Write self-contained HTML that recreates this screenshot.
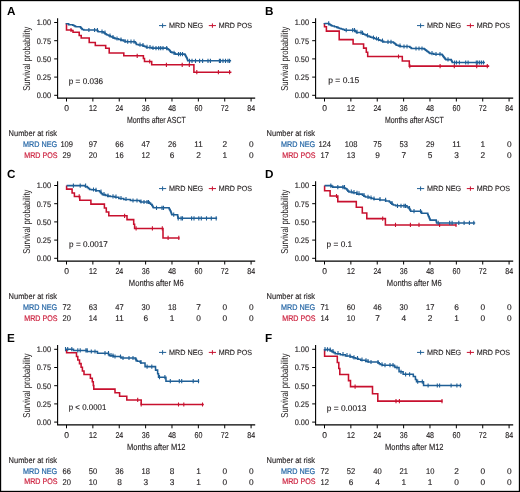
<!DOCTYPE html>
<html><head><meta charset="utf-8"><style>
html,body{margin:0;padding:0;background:#fff;}
svg{display:block;font-family:"Liberation Sans", sans-serif;text-rendering:geometricPrecision;will-change:transform;}
</style></head><body>
<svg width="520" height="492" viewBox="0 0 520 492">
<rect x="0" y="0" width="520" height="492" fill="#fff"/>
<text x="7" y="15.2" font-size="11.7" fill="#000" font-weight="bold">A</text>
<path d="M57.6 18.3V98.1H255.2" fill="none" stroke="#000" stroke-width="1.1"/>
<path d="M54.2 22.5H57.6M54.2 40.7H57.6M54.2 58.9H57.6M54.2 77.1H57.6M54.2 95.3H57.6M66.5 98.1V101.5M92.87 98.1V101.5M119.24 98.1V101.5M145.61 98.1V101.5M171.98 98.1V101.5M198.35 98.1V101.5M224.72 98.1V101.5M251.09 98.1V101.5" stroke="#000" stroke-width="1"/>
<text x="51.1" y="25.4" font-size="8.0" fill="#231f20" stroke="#231f20" stroke-width="0.14" text-anchor="end" textLength="14.4" lengthAdjust="spacingAndGlyphs">1.00</text>
<text x="51.1" y="43.6" font-size="8.0" fill="#231f20" stroke="#231f20" stroke-width="0.14" text-anchor="end" textLength="14.4" lengthAdjust="spacingAndGlyphs">0.75</text>
<text x="51.1" y="61.8" font-size="8.0" fill="#231f20" stroke="#231f20" stroke-width="0.14" text-anchor="end" textLength="14.4" lengthAdjust="spacingAndGlyphs">0.50</text>
<text x="51.1" y="80" font-size="8.0" fill="#231f20" stroke="#231f20" stroke-width="0.14" text-anchor="end" textLength="14.4" lengthAdjust="spacingAndGlyphs">0.25</text>
<text x="51.1" y="98.2" font-size="8.0" fill="#231f20" stroke="#231f20" stroke-width="0.14" text-anchor="end" textLength="14.4" lengthAdjust="spacingAndGlyphs">0.00</text>
<text x="66.6" y="110.7" font-size="8.5" fill="#231f20" stroke="#231f20" stroke-width="0.14" text-anchor="middle">0</text>
<text x="92.97" y="110.7" font-size="8.5" fill="#231f20" stroke="#231f20" stroke-width="0.14" text-anchor="middle" textLength="7.9" lengthAdjust="spacingAndGlyphs">12</text>
<text x="119.34" y="110.7" font-size="8.5" fill="#231f20" stroke="#231f20" stroke-width="0.14" text-anchor="middle" textLength="7.9" lengthAdjust="spacingAndGlyphs">24</text>
<text x="145.71" y="110.7" font-size="8.5" fill="#231f20" stroke="#231f20" stroke-width="0.14" text-anchor="middle" textLength="7.9" lengthAdjust="spacingAndGlyphs">36</text>
<text x="172.08" y="110.7" font-size="8.5" fill="#231f20" stroke="#231f20" stroke-width="0.14" text-anchor="middle" textLength="7.9" lengthAdjust="spacingAndGlyphs">48</text>
<text x="198.45" y="110.7" font-size="8.5" fill="#231f20" stroke="#231f20" stroke-width="0.14" text-anchor="middle" textLength="7.9" lengthAdjust="spacingAndGlyphs">60</text>
<text x="224.82" y="110.7" font-size="8.5" fill="#231f20" stroke="#231f20" stroke-width="0.14" text-anchor="middle" textLength="7.9" lengthAdjust="spacingAndGlyphs">72</text>
<text x="251.19" y="110.7" font-size="8.5" fill="#231f20" stroke="#231f20" stroke-width="0.14" text-anchor="middle" textLength="7.9" lengthAdjust="spacingAndGlyphs">84</text>
<text transform="translate(29.8,58.75) rotate(-90)" font-size="10" fill="#231f20" text-anchor="middle" textLength="64.2" lengthAdjust="spacingAndGlyphs">Survival probability</text>
<text x="156.3" y="123.4" font-size="8.9" fill="#231f20" stroke="#231f20" stroke-width="0.14" text-anchor="middle" textLength="58.8" lengthAdjust="spacingAndGlyphs">Months after ASCT</text>
<path d="M159 25.6h7.2M162.6 23.4v4.4" stroke="#1f5f96" stroke-width="1"/>
<text x="169.1" y="28.1" font-size="7.5" fill="#231f20" stroke="#231f20" stroke-width="0.14" textLength="34.1" lengthAdjust="spacingAndGlyphs">MRD NEG</text>
<path d="M208.8 25.6h7.2M212.4 23.4v4.4" stroke="#c8102e" stroke-width="1"/>
<text x="218.8" y="28.1" font-size="7.5" fill="#231f20" stroke="#231f20" stroke-width="0.14" textLength="33.2" lengthAdjust="spacingAndGlyphs">MRD POS</text>
<text x="68.8" y="83.5" font-size="8.3" fill="#231f20" stroke="#231f20" stroke-width="0.14" textLength="34.3" lengthAdjust="spacingAndGlyphs">p = 0.036</text>
<text x="8.6" y="135.7" font-size="8.2" fill="#231f20" stroke="#231f20" stroke-width="0.14" textLength="48.5" lengthAdjust="spacingAndGlyphs">Number at risk</text>
<text x="57.2" y="146.7" font-size="8.1" fill="#2365a5" stroke="#2365a5" stroke-width="0.2" text-anchor="end" textLength="34.1" lengthAdjust="spacingAndGlyphs">MRD NEG</text>
<text x="57.5" y="157.5" font-size="8.1" fill="#cc1f3d" stroke="#cc1f3d" stroke-width="0.2" text-anchor="end" textLength="33.2" lengthAdjust="spacingAndGlyphs">MRD POS</text>
<text x="66.7" y="147.2" font-size="8.3" fill="#231f20" stroke="#231f20" stroke-width="0.14" text-anchor="middle" textLength="12.6" lengthAdjust="spacingAndGlyphs">109</text>
<text x="93.07" y="147.2" font-size="8.3" fill="#231f20" stroke="#231f20" stroke-width="0.14" text-anchor="middle" textLength="8.4" lengthAdjust="spacingAndGlyphs">97</text>
<text x="119.44" y="147.2" font-size="8.3" fill="#231f20" stroke="#231f20" stroke-width="0.14" text-anchor="middle" textLength="8.4" lengthAdjust="spacingAndGlyphs">66</text>
<text x="145.81" y="147.2" font-size="8.3" fill="#231f20" stroke="#231f20" stroke-width="0.14" text-anchor="middle" textLength="8.4" lengthAdjust="spacingAndGlyphs">47</text>
<text x="172.18" y="147.2" font-size="8.3" fill="#231f20" stroke="#231f20" stroke-width="0.14" text-anchor="middle" textLength="8.4" lengthAdjust="spacingAndGlyphs">26</text>
<text x="198.55" y="147.2" font-size="8.3" fill="#231f20" stroke="#231f20" stroke-width="0.14" text-anchor="middle" textLength="8.4" lengthAdjust="spacingAndGlyphs">11</text>
<text x="224.92" y="147.2" font-size="8.3" fill="#231f20" stroke="#231f20" stroke-width="0.14" text-anchor="middle">2</text>
<text x="251.29" y="147.2" font-size="8.3" fill="#231f20" stroke="#231f20" stroke-width="0.14" text-anchor="middle">0</text>
<text x="66.7" y="157.8" font-size="8.3" fill="#231f20" stroke="#231f20" stroke-width="0.14" text-anchor="middle" textLength="8.4" lengthAdjust="spacingAndGlyphs">29</text>
<text x="93.07" y="157.8" font-size="8.3" fill="#231f20" stroke="#231f20" stroke-width="0.14" text-anchor="middle" textLength="8.4" lengthAdjust="spacingAndGlyphs">20</text>
<text x="119.44" y="157.8" font-size="8.3" fill="#231f20" stroke="#231f20" stroke-width="0.14" text-anchor="middle" textLength="8.4" lengthAdjust="spacingAndGlyphs">16</text>
<text x="145.81" y="157.8" font-size="8.3" fill="#231f20" stroke="#231f20" stroke-width="0.14" text-anchor="middle" textLength="8.4" lengthAdjust="spacingAndGlyphs">12</text>
<text x="172.18" y="157.8" font-size="8.3" fill="#231f20" stroke="#231f20" stroke-width="0.14" text-anchor="middle">6</text>
<text x="198.55" y="157.8" font-size="8.3" fill="#231f20" stroke="#231f20" stroke-width="0.14" text-anchor="middle">2</text>
<text x="224.92" y="157.8" font-size="8.3" fill="#231f20" stroke="#231f20" stroke-width="0.14" text-anchor="middle">1</text>
<text x="251.29" y="157.8" font-size="8.3" fill="#231f20" stroke="#231f20" stroke-width="0.14" text-anchor="middle">0</text>
<path d="M66.5 23V30H71.5V30.5H73V32.3H79.2V35.4H81.2V37.9H89.2V42.5H95.3V45.4H105.7V48.3H109.2V53H123.8V55.8H143.4V58.5H144.5V61.5H151.7V64.8H193.9V72.2H231.4" fill="none" stroke="#c8102e" stroke-width="1.55" stroke-linejoin="miter"/>
<path d="M71 27.9v4.2M137.2 53.7v4.2M149.7 59.4v4.2M166.4 62.7v4.2M182.2 62.7v4.2M189.3 62.7v4.2M196.8 70.1v4.2M218.4 70.1v4.2M229.6 70.1v4.2" stroke="#c8102e" stroke-width="1.1"/>
<path d="M66.50 23.00V23.70H68.70V24.70H72.80V25.27H73.90V25.83H75.00V26.40H76.10V26.70H80.50V27.40H81.07V28.10H81.63V28.80H82.20V29.40H83.70V30.00H85.20H97.40V30.70H97.90V31.40H98.40V31.70H103.10V32.38H104.10V33.05H105.10V33.73H106.10V34.40H107.10V35.07H108.67V35.73H110.23V36.40H111.80V36.97H112.93V37.53H114.07V38.10H115.20V38.80H118.60V39.45H120.95V40.10H123.30V40.90H125.50V41.70H127.70H135.10V42.27H135.53V42.83H135.97V43.40H136.40V44.40H138.50V45.00H142.50V45.60H143.83V46.20H145.17V46.80H146.50V47.40H151.90V48.10H154.60H167.10V48.75H168.10V49.40H169.10V50.07H169.67V50.73H170.23V51.40H170.80V52.10H172.10V52.80H174.80V53.45H175.30V54.10H175.80H184.90V54.70H185.25V55.30H185.60V55.90H185.95V56.50H186.30V57.17H186.63V57.83H186.97V58.50H187.30V59.27H187.53V60.03H187.77V60.80H188.00H231.10" fill="none" stroke="#1f5f96" stroke-width="1.55" stroke-linejoin="miter"/>
<path d="M88.9 27.9v4.2M94.6 27.9v4.2M97.4 27.9v4.2M102 29.6v4.2M105 30.4v4.2M110 33.4v4.2M113 34.9v4.2M117 36.4v4.2M121 37.4v4.2M125 38.9v4.2M127.7 39.6v4.2M131 39.6v4.2M134 39.6v4.2M140 42.5v4.2M143 42.9v4.2M147 44.7v4.2M150 45.1v4.2M153 45.7v4.2M156 46v4.2M158.7 46v4.2M160.7 46v4.2M163 46v4.2M166.7 46v4.2M174 50.7v4.2M178.5 52v4.2M180.4 52v4.2M182.5 52v4.2M189.5 58.7v4.2M192 58.7v4.2M195.5 58.7v4.2M199.6 58.7v4.2M202.6 58.7v4.2M208 58.7v4.2M210.4 58.7v4.2M219.4 58.7v4.2M220.4 58.7v4.2M223 58.7v4.2M225.5 58.7v4.2M228 58.7v4.2M229.6 58.7v4.2" stroke="#1f5f96" stroke-width="1.1"/>
<text x="265" y="15.2" font-size="11.7" fill="#000" font-weight="bold">B</text>
<path d="M315.6 18.3V98.1H513.2" fill="none" stroke="#000" stroke-width="1.1"/>
<path d="M312.2 22.5H315.6M312.2 40.7H315.6M312.2 58.9H315.6M312.2 77.1H315.6M312.2 95.3H315.6M324.5 98.1V101.5M350.87 98.1V101.5M377.24 98.1V101.5M403.61 98.1V101.5M429.98 98.1V101.5M456.35 98.1V101.5M482.72 98.1V101.5M509.09 98.1V101.5" stroke="#000" stroke-width="1"/>
<text x="309.1" y="25.4" font-size="8.0" fill="#231f20" stroke="#231f20" stroke-width="0.14" text-anchor="end" textLength="14.4" lengthAdjust="spacingAndGlyphs">1.00</text>
<text x="309.1" y="43.6" font-size="8.0" fill="#231f20" stroke="#231f20" stroke-width="0.14" text-anchor="end" textLength="14.4" lengthAdjust="spacingAndGlyphs">0.75</text>
<text x="309.1" y="61.8" font-size="8.0" fill="#231f20" stroke="#231f20" stroke-width="0.14" text-anchor="end" textLength="14.4" lengthAdjust="spacingAndGlyphs">0.50</text>
<text x="309.1" y="80" font-size="8.0" fill="#231f20" stroke="#231f20" stroke-width="0.14" text-anchor="end" textLength="14.4" lengthAdjust="spacingAndGlyphs">0.25</text>
<text x="309.1" y="98.2" font-size="8.0" fill="#231f20" stroke="#231f20" stroke-width="0.14" text-anchor="end" textLength="14.4" lengthAdjust="spacingAndGlyphs">0.00</text>
<text x="324.6" y="110.7" font-size="8.5" fill="#231f20" stroke="#231f20" stroke-width="0.14" text-anchor="middle">0</text>
<text x="350.97" y="110.7" font-size="8.5" fill="#231f20" stroke="#231f20" stroke-width="0.14" text-anchor="middle" textLength="7.9" lengthAdjust="spacingAndGlyphs">12</text>
<text x="377.34" y="110.7" font-size="8.5" fill="#231f20" stroke="#231f20" stroke-width="0.14" text-anchor="middle" textLength="7.9" lengthAdjust="spacingAndGlyphs">24</text>
<text x="403.71" y="110.7" font-size="8.5" fill="#231f20" stroke="#231f20" stroke-width="0.14" text-anchor="middle" textLength="7.9" lengthAdjust="spacingAndGlyphs">36</text>
<text x="430.08" y="110.7" font-size="8.5" fill="#231f20" stroke="#231f20" stroke-width="0.14" text-anchor="middle" textLength="7.9" lengthAdjust="spacingAndGlyphs">48</text>
<text x="456.45" y="110.7" font-size="8.5" fill="#231f20" stroke="#231f20" stroke-width="0.14" text-anchor="middle" textLength="7.9" lengthAdjust="spacingAndGlyphs">60</text>
<text x="482.82" y="110.7" font-size="8.5" fill="#231f20" stroke="#231f20" stroke-width="0.14" text-anchor="middle" textLength="7.9" lengthAdjust="spacingAndGlyphs">72</text>
<text x="509.19" y="110.7" font-size="8.5" fill="#231f20" stroke="#231f20" stroke-width="0.14" text-anchor="middle" textLength="7.9" lengthAdjust="spacingAndGlyphs">84</text>
<text transform="translate(287.8,58.75) rotate(-90)" font-size="10" fill="#231f20" text-anchor="middle" textLength="64.2" lengthAdjust="spacingAndGlyphs">Survival probability</text>
<text x="414.3" y="123.4" font-size="8.9" fill="#231f20" stroke="#231f20" stroke-width="0.14" text-anchor="middle" textLength="58.8" lengthAdjust="spacingAndGlyphs">Months after ASCT</text>
<path d="M417 25.6h7.2M420.6 23.4v4.4" stroke="#1f5f96" stroke-width="1"/>
<text x="427.1" y="28.1" font-size="7.5" fill="#231f20" stroke="#231f20" stroke-width="0.14" textLength="34.1" lengthAdjust="spacingAndGlyphs">MRD NEG</text>
<path d="M466.8 25.6h7.2M470.4 23.4v4.4" stroke="#c8102e" stroke-width="1"/>
<text x="476.8" y="28.1" font-size="7.5" fill="#231f20" stroke="#231f20" stroke-width="0.14" textLength="33.2" lengthAdjust="spacingAndGlyphs">MRD POS</text>
<text x="328.3" y="83.4" font-size="8.3" fill="#231f20" stroke="#231f20" stroke-width="0.14" textLength="30.9" lengthAdjust="spacingAndGlyphs">p = 0.15</text>
<text x="266.6" y="135.7" font-size="8.2" fill="#231f20" stroke="#231f20" stroke-width="0.14" textLength="48.5" lengthAdjust="spacingAndGlyphs">Number at risk</text>
<text x="315.2" y="146.7" font-size="8.1" fill="#2365a5" stroke="#2365a5" stroke-width="0.2" text-anchor="end" textLength="34.1" lengthAdjust="spacingAndGlyphs">MRD NEG</text>
<text x="315.5" y="157.5" font-size="8.1" fill="#cc1f3d" stroke="#cc1f3d" stroke-width="0.2" text-anchor="end" textLength="33.2" lengthAdjust="spacingAndGlyphs">MRD POS</text>
<text x="324.7" y="147.2" font-size="8.3" fill="#231f20" stroke="#231f20" stroke-width="0.14" text-anchor="middle" textLength="12.6" lengthAdjust="spacingAndGlyphs">124</text>
<text x="351.07" y="147.2" font-size="8.3" fill="#231f20" stroke="#231f20" stroke-width="0.14" text-anchor="middle" textLength="12.6" lengthAdjust="spacingAndGlyphs">108</text>
<text x="377.44" y="147.2" font-size="8.3" fill="#231f20" stroke="#231f20" stroke-width="0.14" text-anchor="middle" textLength="8.4" lengthAdjust="spacingAndGlyphs">75</text>
<text x="403.81" y="147.2" font-size="8.3" fill="#231f20" stroke="#231f20" stroke-width="0.14" text-anchor="middle" textLength="8.4" lengthAdjust="spacingAndGlyphs">53</text>
<text x="430.18" y="147.2" font-size="8.3" fill="#231f20" stroke="#231f20" stroke-width="0.14" text-anchor="middle" textLength="8.4" lengthAdjust="spacingAndGlyphs">29</text>
<text x="456.55" y="147.2" font-size="8.3" fill="#231f20" stroke="#231f20" stroke-width="0.14" text-anchor="middle" textLength="8.4" lengthAdjust="spacingAndGlyphs">11</text>
<text x="482.92" y="147.2" font-size="8.3" fill="#231f20" stroke="#231f20" stroke-width="0.14" text-anchor="middle">1</text>
<text x="509.29" y="147.2" font-size="8.3" fill="#231f20" stroke="#231f20" stroke-width="0.14" text-anchor="middle">0</text>
<text x="324.7" y="157.8" font-size="8.3" fill="#231f20" stroke="#231f20" stroke-width="0.14" text-anchor="middle" textLength="8.4" lengthAdjust="spacingAndGlyphs">17</text>
<text x="351.07" y="157.8" font-size="8.3" fill="#231f20" stroke="#231f20" stroke-width="0.14" text-anchor="middle" textLength="8.4" lengthAdjust="spacingAndGlyphs">13</text>
<text x="377.44" y="157.8" font-size="8.3" fill="#231f20" stroke="#231f20" stroke-width="0.14" text-anchor="middle">9</text>
<text x="403.81" y="157.8" font-size="8.3" fill="#231f20" stroke="#231f20" stroke-width="0.14" text-anchor="middle">7</text>
<text x="430.18" y="157.8" font-size="8.3" fill="#231f20" stroke="#231f20" stroke-width="0.14" text-anchor="middle">5</text>
<text x="456.55" y="157.8" font-size="8.3" fill="#231f20" stroke="#231f20" stroke-width="0.14" text-anchor="middle">3</text>
<text x="482.92" y="157.8" font-size="8.3" fill="#231f20" stroke="#231f20" stroke-width="0.14" text-anchor="middle">2</text>
<text x="509.29" y="157.8" font-size="8.3" fill="#231f20" stroke="#231f20" stroke-width="0.14" text-anchor="middle">0</text>
<path d="M324.5 23V26.8H326.4V31.1H339.2V39.6H353.1V43.9H363.6V48.1H366.3V52.3H367.7V56.5H402.3V61H409.3V66.1H489.2" fill="none" stroke="#c8102e" stroke-width="1.55" stroke-linejoin="miter"/>
<path d="M398.5 54.4v4.2M409.8 64v4.2M440.1 64v4.2M454.3 64v4.2M476.7 64v4.2M487.3 64v4.2" stroke="#c8102e" stroke-width="1.1"/>
<path d="M324.50 23.00V23.40H328.70V24.07H329.83V24.73H330.97V25.40H332.10V26.05H334.45V26.70H336.80V27.35H338.15V28.00H339.50V28.45H341.20V28.90H342.90V29.55H344.55V30.20H346.20H355.00V30.70H355.47V31.20H355.93V31.70H356.40V32.40H362.10V33.05H362.80V33.70H363.50V34.27H364.83V34.83H366.17V35.40H367.50V36.00H369.07V36.60H370.63V37.20H372.20V37.83H374.23V38.47H376.27V39.10H378.30V39.66H379.64V40.22H380.98V40.78H382.32V41.34H383.66V41.90H385.00H393.20V42.44H393.86V42.98H394.52V43.52H395.18V44.06H395.84V44.60H396.50V45.23H398.43V45.87H400.37V46.50H402.30H409.80V47.17H410.60V47.83H411.40V48.50H412.20H424.20V49.10H424.98V49.70H425.76V50.30H426.54V50.90H427.32V51.50H428.10V52.00H428.73V52.50H429.37V53.00H430.00V53.50H433.80V54.20H438.20H442.00V54.73H442.38V55.25H442.75V55.77H443.12V56.30H443.50V56.88H443.98V57.46H444.46V58.04H444.94V58.62H445.42V59.20H445.90V59.60H451.20V60.18H451.50V60.76H451.80V61.34H452.10V61.92H452.40V62.50H452.70H484.90" fill="none" stroke="#1f5f96" stroke-width="1.55" stroke-linejoin="miter"/>
<path d="M328.7 21.3v4.2M346.2 28.1v4.2M352.7 28.1v4.2M354.5 28.1v4.2M357 29.7v4.2M361 30.2v4.2M362.5 30.7v4.2M367.5 33.3v4.2M373.5 35.4v4.2M376.5 36.4v4.2M378.5 37v4.2M382.5 38.6v4.2M388 39.8v4.2M391 39.8v4.2M400 43.4v4.2M404 44.4v4.2M407 44.4v4.2M416 46.4v4.2M419 46.4v4.2M422 46.4v4.2M432 51.1v4.2M436 51.9v4.2M440 52.1v4.2M448 57.3v4.2M454.6 60.4v4.2M456.5 60.4v4.2M459.4 60.4v4.2M465.7 60.4v4.2M468.1 60.4v4.2M476.3 60.4v4.2M477.7 60.4v4.2M479.6 60.4v4.2M481.5 60.4v4.2M483.5 60.4v4.2" stroke="#1f5f96" stroke-width="1.1"/>
<text x="7" y="178.2" font-size="11.7" fill="#000" font-weight="bold">C</text>
<path d="M57.6 181.3V261.1H255.2" fill="none" stroke="#000" stroke-width="1.1"/>
<path d="M54.2 185.5H57.6M54.2 203.7H57.6M54.2 221.9H57.6M54.2 240.1H57.6M54.2 258.3H57.6M66.5 261.1V264.5M92.87 261.1V264.5M119.24 261.1V264.5M145.61 261.1V264.5M171.98 261.1V264.5M198.35 261.1V264.5M224.72 261.1V264.5M251.09 261.1V264.5" stroke="#000" stroke-width="1"/>
<text x="51.1" y="188.4" font-size="8.0" fill="#231f20" stroke="#231f20" stroke-width="0.14" text-anchor="end" textLength="14.4" lengthAdjust="spacingAndGlyphs">1.00</text>
<text x="51.1" y="206.6" font-size="8.0" fill="#231f20" stroke="#231f20" stroke-width="0.14" text-anchor="end" textLength="14.4" lengthAdjust="spacingAndGlyphs">0.75</text>
<text x="51.1" y="224.8" font-size="8.0" fill="#231f20" stroke="#231f20" stroke-width="0.14" text-anchor="end" textLength="14.4" lengthAdjust="spacingAndGlyphs">0.50</text>
<text x="51.1" y="243" font-size="8.0" fill="#231f20" stroke="#231f20" stroke-width="0.14" text-anchor="end" textLength="14.4" lengthAdjust="spacingAndGlyphs">0.25</text>
<text x="51.1" y="261.2" font-size="8.0" fill="#231f20" stroke="#231f20" stroke-width="0.14" text-anchor="end" textLength="14.4" lengthAdjust="spacingAndGlyphs">0.00</text>
<text x="66.6" y="273.7" font-size="8.5" fill="#231f20" stroke="#231f20" stroke-width="0.14" text-anchor="middle">0</text>
<text x="92.97" y="273.7" font-size="8.5" fill="#231f20" stroke="#231f20" stroke-width="0.14" text-anchor="middle" textLength="7.9" lengthAdjust="spacingAndGlyphs">12</text>
<text x="119.34" y="273.7" font-size="8.5" fill="#231f20" stroke="#231f20" stroke-width="0.14" text-anchor="middle" textLength="7.9" lengthAdjust="spacingAndGlyphs">24</text>
<text x="145.71" y="273.7" font-size="8.5" fill="#231f20" stroke="#231f20" stroke-width="0.14" text-anchor="middle" textLength="7.9" lengthAdjust="spacingAndGlyphs">36</text>
<text x="172.08" y="273.7" font-size="8.5" fill="#231f20" stroke="#231f20" stroke-width="0.14" text-anchor="middle" textLength="7.9" lengthAdjust="spacingAndGlyphs">48</text>
<text x="198.45" y="273.7" font-size="8.5" fill="#231f20" stroke="#231f20" stroke-width="0.14" text-anchor="middle" textLength="7.9" lengthAdjust="spacingAndGlyphs">60</text>
<text x="224.82" y="273.7" font-size="8.5" fill="#231f20" stroke="#231f20" stroke-width="0.14" text-anchor="middle" textLength="7.9" lengthAdjust="spacingAndGlyphs">72</text>
<text x="251.19" y="273.7" font-size="8.5" fill="#231f20" stroke="#231f20" stroke-width="0.14" text-anchor="middle" textLength="7.9" lengthAdjust="spacingAndGlyphs">84</text>
<text transform="translate(29.8,221.75) rotate(-90)" font-size="10" fill="#231f20" text-anchor="middle" textLength="64.2" lengthAdjust="spacingAndGlyphs">Survival probability</text>
<text x="156.3" y="286.4" font-size="8.9" fill="#231f20" stroke="#231f20" stroke-width="0.14" text-anchor="middle" textLength="54.9" lengthAdjust="spacingAndGlyphs">Months after M6</text>
<path d="M159 188.6h7.2M162.6 186.4v4.4" stroke="#1f5f96" stroke-width="1"/>
<text x="169.1" y="191.1" font-size="7.5" fill="#231f20" stroke="#231f20" stroke-width="0.14" textLength="34.1" lengthAdjust="spacingAndGlyphs">MRD NEG</text>
<path d="M208.8 188.6h7.2M212.4 186.4v4.4" stroke="#c8102e" stroke-width="1"/>
<text x="218.8" y="191.1" font-size="7.5" fill="#231f20" stroke="#231f20" stroke-width="0.14" textLength="33.2" lengthAdjust="spacingAndGlyphs">MRD POS</text>
<text x="69.1" y="246.8" font-size="8.3" fill="#231f20" stroke="#231f20" stroke-width="0.14" textLength="38.8" lengthAdjust="spacingAndGlyphs">p = 0.0017</text>
<text x="8.6" y="298.7" font-size="8.2" fill="#231f20" stroke="#231f20" stroke-width="0.14" textLength="48.5" lengthAdjust="spacingAndGlyphs">Number at risk</text>
<text x="57.2" y="309.7" font-size="8.1" fill="#2365a5" stroke="#2365a5" stroke-width="0.2" text-anchor="end" textLength="34.1" lengthAdjust="spacingAndGlyphs">MRD NEG</text>
<text x="57.5" y="320.5" font-size="8.1" fill="#cc1f3d" stroke="#cc1f3d" stroke-width="0.2" text-anchor="end" textLength="33.2" lengthAdjust="spacingAndGlyphs">MRD POS</text>
<text x="66.7" y="310.2" font-size="8.3" fill="#231f20" stroke="#231f20" stroke-width="0.14" text-anchor="middle" textLength="8.4" lengthAdjust="spacingAndGlyphs">72</text>
<text x="93.07" y="310.2" font-size="8.3" fill="#231f20" stroke="#231f20" stroke-width="0.14" text-anchor="middle" textLength="8.4" lengthAdjust="spacingAndGlyphs">63</text>
<text x="119.44" y="310.2" font-size="8.3" fill="#231f20" stroke="#231f20" stroke-width="0.14" text-anchor="middle" textLength="8.4" lengthAdjust="spacingAndGlyphs">47</text>
<text x="145.81" y="310.2" font-size="8.3" fill="#231f20" stroke="#231f20" stroke-width="0.14" text-anchor="middle" textLength="8.4" lengthAdjust="spacingAndGlyphs">30</text>
<text x="172.18" y="310.2" font-size="8.3" fill="#231f20" stroke="#231f20" stroke-width="0.14" text-anchor="middle" textLength="8.4" lengthAdjust="spacingAndGlyphs">18</text>
<text x="198.55" y="310.2" font-size="8.3" fill="#231f20" stroke="#231f20" stroke-width="0.14" text-anchor="middle">7</text>
<text x="224.92" y="310.2" font-size="8.3" fill="#231f20" stroke="#231f20" stroke-width="0.14" text-anchor="middle">0</text>
<text x="251.29" y="310.2" font-size="8.3" fill="#231f20" stroke="#231f20" stroke-width="0.14" text-anchor="middle">0</text>
<text x="66.7" y="320.8" font-size="8.3" fill="#231f20" stroke="#231f20" stroke-width="0.14" text-anchor="middle" textLength="8.4" lengthAdjust="spacingAndGlyphs">20</text>
<text x="93.07" y="320.8" font-size="8.3" fill="#231f20" stroke="#231f20" stroke-width="0.14" text-anchor="middle" textLength="8.4" lengthAdjust="spacingAndGlyphs">14</text>
<text x="119.44" y="320.8" font-size="8.3" fill="#231f20" stroke="#231f20" stroke-width="0.14" text-anchor="middle" textLength="8.4" lengthAdjust="spacingAndGlyphs">11</text>
<text x="145.81" y="320.8" font-size="8.3" fill="#231f20" stroke="#231f20" stroke-width="0.14" text-anchor="middle">6</text>
<text x="172.18" y="320.8" font-size="8.3" fill="#231f20" stroke="#231f20" stroke-width="0.14" text-anchor="middle">1</text>
<text x="198.55" y="320.8" font-size="8.3" fill="#231f20" stroke="#231f20" stroke-width="0.14" text-anchor="middle">0</text>
<text x="224.92" y="320.8" font-size="8.3" fill="#231f20" stroke="#231f20" stroke-width="0.14" text-anchor="middle">0</text>
<text x="251.29" y="320.8" font-size="8.3" fill="#231f20" stroke="#231f20" stroke-width="0.14" text-anchor="middle">0</text>
<path d="M66.6 185.5V189.1H72.1V192.9H74.4V196.4H79.8V200.2H90.9V204.1H104.4V208H106.3V211.9H108.8V215.8H127V219.6H133.7V224.3H134.6V228.4H163V237.9H179.6" fill="none" stroke="#c8102e" stroke-width="1.55" stroke-linejoin="miter"/>
<path d="M79.2 194.3v4.2M124.6 213.7v4.2M136.1 226.3v4.2M152.4 226.3v4.2M162.3 226.3v4.2M168.1 235.8v4.2M178.8 235.8v4.2" stroke="#c8102e" stroke-width="1.1"/>
<path d="M66.60 185.60H85.20V186.40H87.20V187.40H88.40V188.40H89.60V189.40H91.60V189.80H95.80V190.80H99.60V191.77H100.57V192.73H101.53V193.70H102.50V194.60H105.40V195.35H107.80V196.10H110.20V196.50H115.00V197.30H118.80V198.50H123.70V199.40H130.40V200.50H133.00H139.70V201.25H140.45V202.00H141.20H149.30V203.10H150.55V204.20H151.80V205.10H152.33V206.00H152.85V206.90H153.38V207.80H153.90H169.10V208.80H169.63V209.80H170.17V210.80H170.70V211.78H171.07V212.75H171.45V213.72H171.82V214.70H172.20H177.60V215.60H177.75V216.50H177.90V217.40H178.05V218.30H178.20H217.10" fill="none" stroke="#1f5f96" stroke-width="1.55" stroke-linejoin="miter"/>
<path d="M73.4 183.5v4.2M80.2 183.5v4.2M85.6 183.5v4.2M93.5 187.4v4.2M96 187.7v4.2M101 189.4v4.2M104 191.9v4.2M108 193.4v4.2M113 194.3v4.2M116 194.5v4.2M121 195.9v4.2M126 196.9v4.2M133 198.4v4.2M137 198.4v4.2M141 199.4v4.2M144 199.9v4.2M147 199.9v4.2M148.5 199.9v4.2M156.5 205.7v4.2M162 205.7v4.2M163.5 205.7v4.2M173.7 212.6v4.2M178.2 216.2v4.2M181.1 216.2v4.2M182.5 216.2v4.2M191.6 216.2v4.2M194 216.2v4.2M198.8 216.2v4.2M201.3 216.2v4.2M206.5 216.2v4.2M211.3 216.2v4.2M216.2 216.2v4.2" stroke="#1f5f96" stroke-width="1.1"/>
<text x="265" y="178.2" font-size="11.7" fill="#000" font-weight="bold">D</text>
<path d="M315.6 181.3V261.1H513.2" fill="none" stroke="#000" stroke-width="1.1"/>
<path d="M312.2 185.5H315.6M312.2 203.7H315.6M312.2 221.9H315.6M312.2 240.1H315.6M312.2 258.3H315.6M324.5 261.1V264.5M350.87 261.1V264.5M377.24 261.1V264.5M403.61 261.1V264.5M429.98 261.1V264.5M456.35 261.1V264.5M482.72 261.1V264.5M509.09 261.1V264.5" stroke="#000" stroke-width="1"/>
<text x="309.1" y="188.4" font-size="8.0" fill="#231f20" stroke="#231f20" stroke-width="0.14" text-anchor="end" textLength="14.4" lengthAdjust="spacingAndGlyphs">1.00</text>
<text x="309.1" y="206.6" font-size="8.0" fill="#231f20" stroke="#231f20" stroke-width="0.14" text-anchor="end" textLength="14.4" lengthAdjust="spacingAndGlyphs">0.75</text>
<text x="309.1" y="224.8" font-size="8.0" fill="#231f20" stroke="#231f20" stroke-width="0.14" text-anchor="end" textLength="14.4" lengthAdjust="spacingAndGlyphs">0.50</text>
<text x="309.1" y="243" font-size="8.0" fill="#231f20" stroke="#231f20" stroke-width="0.14" text-anchor="end" textLength="14.4" lengthAdjust="spacingAndGlyphs">0.25</text>
<text x="309.1" y="261.2" font-size="8.0" fill="#231f20" stroke="#231f20" stroke-width="0.14" text-anchor="end" textLength="14.4" lengthAdjust="spacingAndGlyphs">0.00</text>
<text x="324.6" y="273.7" font-size="8.5" fill="#231f20" stroke="#231f20" stroke-width="0.14" text-anchor="middle">0</text>
<text x="350.97" y="273.7" font-size="8.5" fill="#231f20" stroke="#231f20" stroke-width="0.14" text-anchor="middle" textLength="7.9" lengthAdjust="spacingAndGlyphs">12</text>
<text x="377.34" y="273.7" font-size="8.5" fill="#231f20" stroke="#231f20" stroke-width="0.14" text-anchor="middle" textLength="7.9" lengthAdjust="spacingAndGlyphs">24</text>
<text x="403.71" y="273.7" font-size="8.5" fill="#231f20" stroke="#231f20" stroke-width="0.14" text-anchor="middle" textLength="7.9" lengthAdjust="spacingAndGlyphs">36</text>
<text x="430.08" y="273.7" font-size="8.5" fill="#231f20" stroke="#231f20" stroke-width="0.14" text-anchor="middle" textLength="7.9" lengthAdjust="spacingAndGlyphs">48</text>
<text x="456.45" y="273.7" font-size="8.5" fill="#231f20" stroke="#231f20" stroke-width="0.14" text-anchor="middle" textLength="7.9" lengthAdjust="spacingAndGlyphs">60</text>
<text x="482.82" y="273.7" font-size="8.5" fill="#231f20" stroke="#231f20" stroke-width="0.14" text-anchor="middle" textLength="7.9" lengthAdjust="spacingAndGlyphs">72</text>
<text x="509.19" y="273.7" font-size="8.5" fill="#231f20" stroke="#231f20" stroke-width="0.14" text-anchor="middle" textLength="7.9" lengthAdjust="spacingAndGlyphs">84</text>
<text transform="translate(287.8,221.75) rotate(-90)" font-size="10" fill="#231f20" text-anchor="middle" textLength="64.2" lengthAdjust="spacingAndGlyphs">Survival probability</text>
<text x="414.3" y="286.4" font-size="8.9" fill="#231f20" stroke="#231f20" stroke-width="0.14" text-anchor="middle" textLength="54.9" lengthAdjust="spacingAndGlyphs">Months after M6</text>
<path d="M417 188.6h7.2M420.6 186.4v4.4" stroke="#1f5f96" stroke-width="1"/>
<text x="427.1" y="191.1" font-size="7.5" fill="#231f20" stroke="#231f20" stroke-width="0.14" textLength="34.1" lengthAdjust="spacingAndGlyphs">MRD NEG</text>
<path d="M466.8 188.6h7.2M470.4 186.4v4.4" stroke="#c8102e" stroke-width="1"/>
<text x="476.8" y="191.1" font-size="7.5" fill="#231f20" stroke="#231f20" stroke-width="0.14" textLength="33.2" lengthAdjust="spacingAndGlyphs">MRD POS</text>
<text x="326.6" y="246.8" font-size="8.3" fill="#231f20" stroke="#231f20" stroke-width="0.14" textLength="25.6" lengthAdjust="spacingAndGlyphs">p = 0.1</text>
<text x="266.6" y="298.7" font-size="8.2" fill="#231f20" stroke="#231f20" stroke-width="0.14" textLength="48.5" lengthAdjust="spacingAndGlyphs">Number at risk</text>
<text x="315.2" y="309.7" font-size="8.1" fill="#2365a5" stroke="#2365a5" stroke-width="0.2" text-anchor="end" textLength="34.1" lengthAdjust="spacingAndGlyphs">MRD NEG</text>
<text x="315.5" y="320.5" font-size="8.1" fill="#cc1f3d" stroke="#cc1f3d" stroke-width="0.2" text-anchor="end" textLength="33.2" lengthAdjust="spacingAndGlyphs">MRD POS</text>
<text x="324.7" y="310.2" font-size="8.3" fill="#231f20" stroke="#231f20" stroke-width="0.14" text-anchor="middle" textLength="8.4" lengthAdjust="spacingAndGlyphs">71</text>
<text x="351.07" y="310.2" font-size="8.3" fill="#231f20" stroke="#231f20" stroke-width="0.14" text-anchor="middle" textLength="8.4" lengthAdjust="spacingAndGlyphs">60</text>
<text x="377.44" y="310.2" font-size="8.3" fill="#231f20" stroke="#231f20" stroke-width="0.14" text-anchor="middle" textLength="8.4" lengthAdjust="spacingAndGlyphs">46</text>
<text x="403.81" y="310.2" font-size="8.3" fill="#231f20" stroke="#231f20" stroke-width="0.14" text-anchor="middle" textLength="8.4" lengthAdjust="spacingAndGlyphs">30</text>
<text x="430.18" y="310.2" font-size="8.3" fill="#231f20" stroke="#231f20" stroke-width="0.14" text-anchor="middle" textLength="8.4" lengthAdjust="spacingAndGlyphs">17</text>
<text x="456.55" y="310.2" font-size="8.3" fill="#231f20" stroke="#231f20" stroke-width="0.14" text-anchor="middle">6</text>
<text x="482.92" y="310.2" font-size="8.3" fill="#231f20" stroke="#231f20" stroke-width="0.14" text-anchor="middle">0</text>
<text x="509.29" y="310.2" font-size="8.3" fill="#231f20" stroke="#231f20" stroke-width="0.14" text-anchor="middle">0</text>
<text x="324.7" y="320.8" font-size="8.3" fill="#231f20" stroke="#231f20" stroke-width="0.14" text-anchor="middle" textLength="8.4" lengthAdjust="spacingAndGlyphs">14</text>
<text x="351.07" y="320.8" font-size="8.3" fill="#231f20" stroke="#231f20" stroke-width="0.14" text-anchor="middle" textLength="8.4" lengthAdjust="spacingAndGlyphs">10</text>
<text x="377.44" y="320.8" font-size="8.3" fill="#231f20" stroke="#231f20" stroke-width="0.14" text-anchor="middle">7</text>
<text x="403.81" y="320.8" font-size="8.3" fill="#231f20" stroke="#231f20" stroke-width="0.14" text-anchor="middle">4</text>
<text x="430.18" y="320.8" font-size="8.3" fill="#231f20" stroke="#231f20" stroke-width="0.14" text-anchor="middle">2</text>
<text x="456.55" y="320.8" font-size="8.3" fill="#231f20" stroke="#231f20" stroke-width="0.14" text-anchor="middle">1</text>
<text x="482.92" y="320.8" font-size="8.3" fill="#231f20" stroke="#231f20" stroke-width="0.14" text-anchor="middle">0</text>
<text x="509.29" y="320.8" font-size="8.3" fill="#231f20" stroke="#231f20" stroke-width="0.14" text-anchor="middle">0</text>
<path d="M324.6 185.5V190.8H330.1V196H337.8V201.6H356.3V207.2H362.3V212.9H366.8V218.6H385.4V224.9H456.4" fill="none" stroke="#c8102e" stroke-width="1.55" stroke-linejoin="miter"/>
<path d="M336.5 193.9v4.2M382.7 216.5v4.2M395.5 222.8v4.2M410.4 222.8v4.2M419 222.8v4.2M439.6 222.8v4.2M456 222.8v4.2" stroke="#c8102e" stroke-width="1.1"/>
<path d="M324.60 185.60H331.80V186.35H332.80V187.10H333.80H344.20V187.90H345.55V188.70H346.90V189.90H347.90V191.10H348.90V191.90H352.80V192.70H356.70V194.10H362.50V195.20H363.95V196.30H365.40V197.00H369.20V197.75H371.60V198.50H374.00V199.20H379.80V199.90H385.60V200.90H389.40V202.00H390.70V203.10H392.00V204.20H393.30V205.00H395.60V205.80H397.90H407.00V206.90H408.20V208.00H409.40V209.07H410.03V210.13H410.67V211.20H411.30H421.40V212.25H421.65V213.30H421.90H427.70V214.50H428.20V215.70H428.70V216.80H429.18V217.90H429.65V219.00H430.12V220.10H430.60H436.20V221.03H436.40V221.97H436.60V222.90H436.80H475.20" fill="none" stroke="#1f5f96" stroke-width="1.55" stroke-linejoin="miter"/>
<path d="M330.8 183.5v4.2M337.8 185v4.2M342.9 185v4.2M344.5 185v4.2M351.3 189.4v4.2M354 190.1v4.2M357 190.7v4.2M359 191.2v4.2M364 192.9v4.2M368 194.7v4.2M371 195.4v4.2M374 196.4v4.2M380 197.1v4.2M385.6 197.8v4.2M392 200.9v4.2M397.5 203.7v4.2M401 203.7v4.2M404 203.7v4.2M405.5 203.7v4.2M409.5 205.9v4.2M414 209.1v4.2M420.5 209.1v4.2M438.2 220.8v4.2M449.7 220.8v4.2M452.1 220.8v4.2M458.8 220.8v4.2M464.1 220.8v4.2M469.4 220.8v4.2M473.8 220.8v4.2" stroke="#1f5f96" stroke-width="1.1"/>
<text x="7" y="342" font-size="11.7" fill="#000" font-weight="bold">E</text>
<path d="M57.6 345.1V424.9H255.2" fill="none" stroke="#000" stroke-width="1.1"/>
<path d="M54.2 349.3H57.6M54.2 367.5H57.6M54.2 385.7H57.6M54.2 403.9H57.6M54.2 422.1H57.6M66.5 424.9V428.3M92.87 424.9V428.3M119.24 424.9V428.3M145.61 424.9V428.3M171.98 424.9V428.3M198.35 424.9V428.3M224.72 424.9V428.3M251.09 424.9V428.3" stroke="#000" stroke-width="1"/>
<text x="51.1" y="352.2" font-size="8.0" fill="#231f20" stroke="#231f20" stroke-width="0.14" text-anchor="end" textLength="14.4" lengthAdjust="spacingAndGlyphs">1.00</text>
<text x="51.1" y="370.4" font-size="8.0" fill="#231f20" stroke="#231f20" stroke-width="0.14" text-anchor="end" textLength="14.4" lengthAdjust="spacingAndGlyphs">0.75</text>
<text x="51.1" y="388.6" font-size="8.0" fill="#231f20" stroke="#231f20" stroke-width="0.14" text-anchor="end" textLength="14.4" lengthAdjust="spacingAndGlyphs">0.50</text>
<text x="51.1" y="406.8" font-size="8.0" fill="#231f20" stroke="#231f20" stroke-width="0.14" text-anchor="end" textLength="14.4" lengthAdjust="spacingAndGlyphs">0.25</text>
<text x="51.1" y="425" font-size="8.0" fill="#231f20" stroke="#231f20" stroke-width="0.14" text-anchor="end" textLength="14.4" lengthAdjust="spacingAndGlyphs">0.00</text>
<text x="66.6" y="437.5" font-size="8.5" fill="#231f20" stroke="#231f20" stroke-width="0.14" text-anchor="middle">0</text>
<text x="92.97" y="437.5" font-size="8.5" fill="#231f20" stroke="#231f20" stroke-width="0.14" text-anchor="middle" textLength="7.9" lengthAdjust="spacingAndGlyphs">12</text>
<text x="119.34" y="437.5" font-size="8.5" fill="#231f20" stroke="#231f20" stroke-width="0.14" text-anchor="middle" textLength="7.9" lengthAdjust="spacingAndGlyphs">24</text>
<text x="145.71" y="437.5" font-size="8.5" fill="#231f20" stroke="#231f20" stroke-width="0.14" text-anchor="middle" textLength="7.9" lengthAdjust="spacingAndGlyphs">36</text>
<text x="172.08" y="437.5" font-size="8.5" fill="#231f20" stroke="#231f20" stroke-width="0.14" text-anchor="middle" textLength="7.9" lengthAdjust="spacingAndGlyphs">48</text>
<text x="198.45" y="437.5" font-size="8.5" fill="#231f20" stroke="#231f20" stroke-width="0.14" text-anchor="middle" textLength="7.9" lengthAdjust="spacingAndGlyphs">60</text>
<text x="224.82" y="437.5" font-size="8.5" fill="#231f20" stroke="#231f20" stroke-width="0.14" text-anchor="middle" textLength="7.9" lengthAdjust="spacingAndGlyphs">72</text>
<text x="251.19" y="437.5" font-size="8.5" fill="#231f20" stroke="#231f20" stroke-width="0.14" text-anchor="middle" textLength="7.9" lengthAdjust="spacingAndGlyphs">84</text>
<text transform="translate(29.8,385.55) rotate(-90)" font-size="10" fill="#231f20" text-anchor="middle" textLength="64.2" lengthAdjust="spacingAndGlyphs">Survival probability</text>
<text x="156.3" y="450.2" font-size="8.9" fill="#231f20" stroke="#231f20" stroke-width="0.14" text-anchor="middle" textLength="58.4" lengthAdjust="spacingAndGlyphs">Months after M12</text>
<path d="M159 352.4h7.2M162.6 350.2v4.4" stroke="#1f5f96" stroke-width="1"/>
<text x="169.1" y="354.9" font-size="7.5" fill="#231f20" stroke="#231f20" stroke-width="0.14" textLength="34.1" lengthAdjust="spacingAndGlyphs">MRD NEG</text>
<path d="M208.8 352.4h7.2M212.4 350.2v4.4" stroke="#c8102e" stroke-width="1"/>
<text x="218.8" y="354.9" font-size="7.5" fill="#231f20" stroke="#231f20" stroke-width="0.14" textLength="33.2" lengthAdjust="spacingAndGlyphs">MRD POS</text>
<text x="68.8" y="410.1" font-size="8.3" fill="#231f20" stroke="#231f20" stroke-width="0.14" textLength="37.5" lengthAdjust="spacingAndGlyphs">p &lt; 0.0001</text>
<text x="8.6" y="462.5" font-size="8.2" fill="#231f20" stroke="#231f20" stroke-width="0.14" textLength="48.5" lengthAdjust="spacingAndGlyphs">Number at risk</text>
<text x="57.2" y="473.5" font-size="8.1" fill="#2365a5" stroke="#2365a5" stroke-width="0.2" text-anchor="end" textLength="34.1" lengthAdjust="spacingAndGlyphs">MRD NEG</text>
<text x="57.5" y="484.3" font-size="8.1" fill="#cc1f3d" stroke="#cc1f3d" stroke-width="0.2" text-anchor="end" textLength="33.2" lengthAdjust="spacingAndGlyphs">MRD POS</text>
<text x="66.7" y="474" font-size="8.3" fill="#231f20" stroke="#231f20" stroke-width="0.14" text-anchor="middle" textLength="8.4" lengthAdjust="spacingAndGlyphs">66</text>
<text x="93.07" y="474" font-size="8.3" fill="#231f20" stroke="#231f20" stroke-width="0.14" text-anchor="middle" textLength="8.4" lengthAdjust="spacingAndGlyphs">50</text>
<text x="119.44" y="474" font-size="8.3" fill="#231f20" stroke="#231f20" stroke-width="0.14" text-anchor="middle" textLength="8.4" lengthAdjust="spacingAndGlyphs">36</text>
<text x="145.81" y="474" font-size="8.3" fill="#231f20" stroke="#231f20" stroke-width="0.14" text-anchor="middle" textLength="8.4" lengthAdjust="spacingAndGlyphs">18</text>
<text x="172.18" y="474" font-size="8.3" fill="#231f20" stroke="#231f20" stroke-width="0.14" text-anchor="middle">8</text>
<text x="198.55" y="474" font-size="8.3" fill="#231f20" stroke="#231f20" stroke-width="0.14" text-anchor="middle">1</text>
<text x="224.92" y="474" font-size="8.3" fill="#231f20" stroke="#231f20" stroke-width="0.14" text-anchor="middle">0</text>
<text x="251.29" y="474" font-size="8.3" fill="#231f20" stroke="#231f20" stroke-width="0.14" text-anchor="middle">0</text>
<text x="66.7" y="484.6" font-size="8.3" fill="#231f20" stroke="#231f20" stroke-width="0.14" text-anchor="middle" textLength="8.4" lengthAdjust="spacingAndGlyphs">20</text>
<text x="93.07" y="484.6" font-size="8.3" fill="#231f20" stroke="#231f20" stroke-width="0.14" text-anchor="middle" textLength="8.4" lengthAdjust="spacingAndGlyphs">10</text>
<text x="119.44" y="484.6" font-size="8.3" fill="#231f20" stroke="#231f20" stroke-width="0.14" text-anchor="middle">8</text>
<text x="145.81" y="484.6" font-size="8.3" fill="#231f20" stroke="#231f20" stroke-width="0.14" text-anchor="middle">3</text>
<text x="172.18" y="484.6" font-size="8.3" fill="#231f20" stroke="#231f20" stroke-width="0.14" text-anchor="middle">3</text>
<text x="198.55" y="484.6" font-size="8.3" fill="#231f20" stroke="#231f20" stroke-width="0.14" text-anchor="middle">1</text>
<text x="224.92" y="484.6" font-size="8.3" fill="#231f20" stroke="#231f20" stroke-width="0.14" text-anchor="middle">0</text>
<text x="251.29" y="484.6" font-size="8.3" fill="#231f20" stroke="#231f20" stroke-width="0.14" text-anchor="middle">0</text>
<path d="M66.6 349.1V352.7H76.5V356.4H77.8V360H79.5V363.6H81.1V367.3H82.4V370.9H84V374.5H90.4V378.2H92.3V381.8H93.3V385.4H93.8V389.1H115V392.7H119.6V396.3H126.8V399.9H141.2V404.5H203.8" fill="none" stroke="#c8102e" stroke-width="1.55" stroke-linejoin="miter"/>
<path d="M137.7 397.8v4.2M141.2 402.4v4.2M178.5 402.4v4.2M183.8 402.4v4.2M202.5 402.4v4.2" stroke="#c8102e" stroke-width="1.1"/>
<path d="M65.40 349.20H73.50V350.40H74.80H87.20V351.50H88.20H97.40V352.35H97.50V353.20H97.60H108.50V354.60H109.40V355.60H113.30V356.50H115.20H120.50V357.25H121.45V358.00H122.40H135.40V359.20H136.35V360.40H137.30V361.30H140.20V362.15H140.75V363.00H141.30H145.00V363.90H145.03V364.80H145.05V365.70H145.07V366.60H145.10H155.50V367.48H155.53V368.35H155.55V369.23H155.57V370.10H155.60H157.60V371.03H157.62V371.95H157.65V372.88H157.67V373.80H157.70H158.50V374.93H158.53V376.07H158.57V377.20H158.60H165.90V378.20H165.93V379.20H165.95V380.20H165.97V381.20H166.00H199.20" fill="none" stroke="#1f5f96" stroke-width="1.55" stroke-linejoin="miter"/>
<path d="M65.5 347.1v4.2M67.7 347.1v4.2M71.8 347.1v4.2M77.8 348.3v4.2M80.2 348.3v4.2M85.9 348.3v4.2M87.2 348.3v4.2M91.3 349.4v4.2M95 349.4v4.2M105 351.1v4.2M108.5 351.1v4.2M111 352.9v4.2M113 353.5v4.2M115 354.4v4.2M120.5 354.4v4.2M123 355.9v4.2M129 355.9v4.2M133 355.9v4.2M136 357.4v4.2M141 359.9v4.2M147.1 364.5v4.2M151.8 364.5v4.2M159.5 375.1v4.2M164.9 375.1v4.2M170.3 379.1v4.2M179.3 379.1v4.2M181.7 379.1v4.2M193.2 379.1v4.2M198.5 379.1v4.2" stroke="#1f5f96" stroke-width="1.1"/>
<text x="265" y="342" font-size="11.7" fill="#000" font-weight="bold">F</text>
<path d="M315.6 345.1V424.9H513.2" fill="none" stroke="#000" stroke-width="1.1"/>
<path d="M312.2 349.3H315.6M312.2 367.5H315.6M312.2 385.7H315.6M312.2 403.9H315.6M312.2 422.1H315.6M324.5 424.9V428.3M350.87 424.9V428.3M377.24 424.9V428.3M403.61 424.9V428.3M429.98 424.9V428.3M456.35 424.9V428.3M482.72 424.9V428.3M509.09 424.9V428.3" stroke="#000" stroke-width="1"/>
<text x="309.1" y="352.2" font-size="8.0" fill="#231f20" stroke="#231f20" stroke-width="0.14" text-anchor="end" textLength="14.4" lengthAdjust="spacingAndGlyphs">1.00</text>
<text x="309.1" y="370.4" font-size="8.0" fill="#231f20" stroke="#231f20" stroke-width="0.14" text-anchor="end" textLength="14.4" lengthAdjust="spacingAndGlyphs">0.75</text>
<text x="309.1" y="388.6" font-size="8.0" fill="#231f20" stroke="#231f20" stroke-width="0.14" text-anchor="end" textLength="14.4" lengthAdjust="spacingAndGlyphs">0.50</text>
<text x="309.1" y="406.8" font-size="8.0" fill="#231f20" stroke="#231f20" stroke-width="0.14" text-anchor="end" textLength="14.4" lengthAdjust="spacingAndGlyphs">0.25</text>
<text x="309.1" y="425" font-size="8.0" fill="#231f20" stroke="#231f20" stroke-width="0.14" text-anchor="end" textLength="14.4" lengthAdjust="spacingAndGlyphs">0.00</text>
<text x="324.6" y="437.5" font-size="8.5" fill="#231f20" stroke="#231f20" stroke-width="0.14" text-anchor="middle">0</text>
<text x="350.97" y="437.5" font-size="8.5" fill="#231f20" stroke="#231f20" stroke-width="0.14" text-anchor="middle" textLength="7.9" lengthAdjust="spacingAndGlyphs">12</text>
<text x="377.34" y="437.5" font-size="8.5" fill="#231f20" stroke="#231f20" stroke-width="0.14" text-anchor="middle" textLength="7.9" lengthAdjust="spacingAndGlyphs">24</text>
<text x="403.71" y="437.5" font-size="8.5" fill="#231f20" stroke="#231f20" stroke-width="0.14" text-anchor="middle" textLength="7.9" lengthAdjust="spacingAndGlyphs">36</text>
<text x="430.08" y="437.5" font-size="8.5" fill="#231f20" stroke="#231f20" stroke-width="0.14" text-anchor="middle" textLength="7.9" lengthAdjust="spacingAndGlyphs">48</text>
<text x="456.45" y="437.5" font-size="8.5" fill="#231f20" stroke="#231f20" stroke-width="0.14" text-anchor="middle" textLength="7.9" lengthAdjust="spacingAndGlyphs">60</text>
<text x="482.82" y="437.5" font-size="8.5" fill="#231f20" stroke="#231f20" stroke-width="0.14" text-anchor="middle" textLength="7.9" lengthAdjust="spacingAndGlyphs">72</text>
<text x="509.19" y="437.5" font-size="8.5" fill="#231f20" stroke="#231f20" stroke-width="0.14" text-anchor="middle" textLength="7.9" lengthAdjust="spacingAndGlyphs">84</text>
<text transform="translate(287.8,385.55) rotate(-90)" font-size="10" fill="#231f20" text-anchor="middle" textLength="64.2" lengthAdjust="spacingAndGlyphs">Survival probability</text>
<text x="414.3" y="450.2" font-size="8.9" fill="#231f20" stroke="#231f20" stroke-width="0.14" text-anchor="middle" textLength="58.4" lengthAdjust="spacingAndGlyphs">Months after M12</text>
<path d="M417 352.4h7.2M420.6 350.2v4.4" stroke="#1f5f96" stroke-width="1"/>
<text x="427.1" y="354.9" font-size="7.5" fill="#231f20" stroke="#231f20" stroke-width="0.14" textLength="34.1" lengthAdjust="spacingAndGlyphs">MRD NEG</text>
<path d="M466.8 352.4h7.2M470.4 350.2v4.4" stroke="#c8102e" stroke-width="1"/>
<text x="476.8" y="354.9" font-size="7.5" fill="#231f20" stroke="#231f20" stroke-width="0.14" textLength="33.2" lengthAdjust="spacingAndGlyphs">MRD POS</text>
<text x="326.8" y="410.7" font-size="8.3" fill="#231f20" stroke="#231f20" stroke-width="0.14" textLength="39.6" lengthAdjust="spacingAndGlyphs">p = 0.0013</text>
<text x="266.6" y="462.5" font-size="8.2" fill="#231f20" stroke="#231f20" stroke-width="0.14" textLength="48.5" lengthAdjust="spacingAndGlyphs">Number at risk</text>
<text x="315.2" y="473.5" font-size="8.1" fill="#2365a5" stroke="#2365a5" stroke-width="0.2" text-anchor="end" textLength="34.1" lengthAdjust="spacingAndGlyphs">MRD NEG</text>
<text x="315.5" y="484.3" font-size="8.1" fill="#cc1f3d" stroke="#cc1f3d" stroke-width="0.2" text-anchor="end" textLength="33.2" lengthAdjust="spacingAndGlyphs">MRD POS</text>
<text x="324.7" y="474" font-size="8.3" fill="#231f20" stroke="#231f20" stroke-width="0.14" text-anchor="middle" textLength="8.4" lengthAdjust="spacingAndGlyphs">72</text>
<text x="351.07" y="474" font-size="8.3" fill="#231f20" stroke="#231f20" stroke-width="0.14" text-anchor="middle" textLength="8.4" lengthAdjust="spacingAndGlyphs">52</text>
<text x="377.44" y="474" font-size="8.3" fill="#231f20" stroke="#231f20" stroke-width="0.14" text-anchor="middle" textLength="8.4" lengthAdjust="spacingAndGlyphs">40</text>
<text x="403.81" y="474" font-size="8.3" fill="#231f20" stroke="#231f20" stroke-width="0.14" text-anchor="middle" textLength="8.4" lengthAdjust="spacingAndGlyphs">21</text>
<text x="430.18" y="474" font-size="8.3" fill="#231f20" stroke="#231f20" stroke-width="0.14" text-anchor="middle" textLength="8.4" lengthAdjust="spacingAndGlyphs">10</text>
<text x="456.55" y="474" font-size="8.3" fill="#231f20" stroke="#231f20" stroke-width="0.14" text-anchor="middle">2</text>
<text x="482.92" y="474" font-size="8.3" fill="#231f20" stroke="#231f20" stroke-width="0.14" text-anchor="middle">0</text>
<text x="509.29" y="474" font-size="8.3" fill="#231f20" stroke="#231f20" stroke-width="0.14" text-anchor="middle">0</text>
<text x="324.7" y="484.6" font-size="8.3" fill="#231f20" stroke="#231f20" stroke-width="0.14" text-anchor="middle" textLength="8.4" lengthAdjust="spacingAndGlyphs">12</text>
<text x="351.07" y="484.6" font-size="8.3" fill="#231f20" stroke="#231f20" stroke-width="0.14" text-anchor="middle">6</text>
<text x="377.44" y="484.6" font-size="8.3" fill="#231f20" stroke="#231f20" stroke-width="0.14" text-anchor="middle">4</text>
<text x="403.81" y="484.6" font-size="8.3" fill="#231f20" stroke="#231f20" stroke-width="0.14" text-anchor="middle">1</text>
<text x="430.18" y="484.6" font-size="8.3" fill="#231f20" stroke="#231f20" stroke-width="0.14" text-anchor="middle">1</text>
<text x="456.55" y="484.6" font-size="8.3" fill="#231f20" stroke="#231f20" stroke-width="0.14" text-anchor="middle">0</text>
<text x="482.92" y="484.6" font-size="8.3" fill="#231f20" stroke="#231f20" stroke-width="0.14" text-anchor="middle">0</text>
<text x="509.29" y="484.6" font-size="8.3" fill="#231f20" stroke="#231f20" stroke-width="0.14" text-anchor="middle">0</text>
<path d="M324.6 349.1V356.3H337.3V362.4H338.8V368.5H339.8V374.5H348.5V380.6H350.5V386.6H372.5V393.8H377.8V401.1H442.5" fill="none" stroke="#c8102e" stroke-width="1.55" stroke-linejoin="miter"/>
<path d="M355.1 384.5v4.2M396 399v4.2M399.4 399v4.2M442 399v4.2" stroke="#c8102e" stroke-width="1.1"/>
<path d="M324.60 349.10V349.60H330.20V350.60H331.87V351.60H333.53V352.60H335.20V353.70H340.30V354.70H345.40V356.00H350.50V356.85H353.05V357.70H355.60V358.45H358.15V359.20H360.70V360.30H365.70V361.15H368.40V362.00H371.10H378.20V362.85H379.20V363.70H380.20V364.45H382.50V365.20H384.80H394.50V366.35H395.00V367.50H395.50H399.00V368.57H399.02V369.65H399.05V370.73H399.08V371.80H399.10H403.10V373.05H403.15V374.30H403.20H413.30V375.40H413.35V376.50H413.40H415.40V377.47H415.43V378.43H415.47V379.40H415.50H416.50V380.55H416.55V381.70H416.60H423.50V382.65H423.52V383.60H423.55V384.55H423.58V385.50H423.60H461.50" fill="none" stroke="#1f5f96" stroke-width="1.55" stroke-linejoin="miter"/>
<path d="M325 347v4.2M327.5 347.2v4.2M330.2 347.5v4.2M333 348.9v4.2M338 350.9v4.2M343 352.1v4.2M347 352.9v4.2M350 353.7v4.2M354 355.2v4.2M357.5 355.9v4.2M362 357.4v4.2M366 358.3v4.2M368 358.9v4.2M371 359.9v4.2M378 359.9v4.2M382 362.2v4.2M385 363.1v4.2M390 363.1v4.2M393 363.1v4.2M397 365.4v4.2M401 369.7v4.2M405.6 372.2v4.2M409.6 372.2v4.2M417.7 379.6v4.2M422.3 379.6v4.2M428.1 383.4v4.2M437.3 383.4v4.2M439.6 383.4v4.2M451.1 383.4v4.2M456.9 383.4v4.2M460.4 383.4v4.2" stroke="#1f5f96" stroke-width="1.1"/>
<rect x="0.55" y="0.55" width="518.9" height="490.9" fill="none" stroke="#000" stroke-width="1.25"/>
</svg>
</body></html>
